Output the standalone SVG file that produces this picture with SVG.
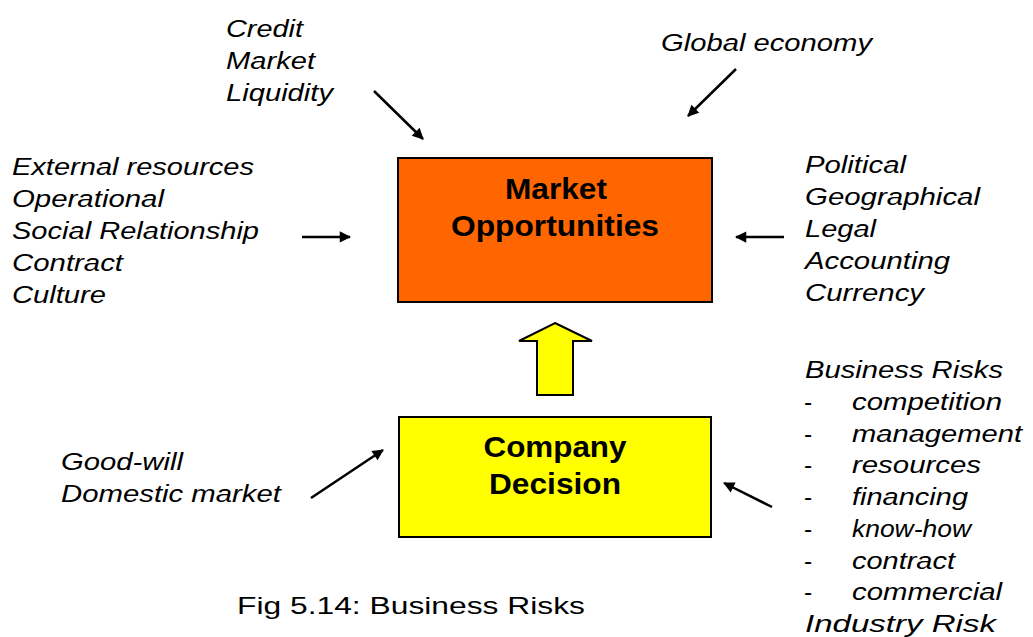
<svg xmlns="http://www.w3.org/2000/svg" width="1033" height="637" viewBox="0 0 1033 637">
<style>
.t{font-family:"Liberation Sans",Arial,sans-serif;font-size:24.5px;font-style:italic;fill:#000}
.c{font-family:"Liberation Sans",Arial,sans-serif;font-size:24.5px;fill:#000}
.b{font-family:"Liberation Sans",Arial,sans-serif;font-size:30px;font-weight:bold;fill:#000;text-anchor:middle}
.a{stroke:#000;stroke-width:2.5;fill:none;marker-end:url(#ah)}
</style>
<defs>
<marker id="ah" viewBox="0 0 10 10" refX="9" refY="5" markerWidth="7" markerHeight="7" markerUnits="userSpaceOnUse" orient="auto" style="overflow:visible">
<path d="M0,0 L10,5 L0,10 z" fill="#000" transform="scale(1.6) translate(-3.5,-1.9)"/>
</marker>
</defs>
<rect width="1033" height="637" fill="#fff"/>
<g id="market">
<rect x="398" y="158" width="314" height="144" fill="#ff6600" stroke="#000" stroke-width="2"/>
<text class="b" x="556" y="199" textLength="102" lengthAdjust="spacingAndGlyphs">Market</text>
<text class="b" x="555" y="236" textLength="208" lengthAdjust="spacingAndGlyphs">Opportunities</text>
</g>
<g id="company">
<rect x="399" y="417" width="312" height="120" fill="#ffff00" stroke="#000" stroke-width="2"/>
<text class="b" x="555" y="457" textLength="143" lengthAdjust="spacingAndGlyphs">Company</text>
<text class="b" x="555" y="494" textLength="132" lengthAdjust="spacingAndGlyphs">Decision</text>
</g>
<g id="upArrow">
<polygon points="555,323 592,341 573,341 573,395 537,395 537,341 519,341" fill="#ffff00" stroke="#000" stroke-width="2"/>
</g>
<g id="connectors">
<line class="a" x1="374" y1="91" x2="423" y2="139"/>
<line class="a" x1="736" y1="69" x2="688" y2="116"/>
<line class="a" x1="302" y1="237" x2="350" y2="237"/>
<line class="a" x1="784" y1="237" x2="736" y2="237"/>
<line class="a" x1="311" y1="498" x2="383" y2="450"/>
<line class="a" x1="772" y1="507" x2="724" y2="483"/>
</g>
<g id="top-left-labels">
<text class="t" x="226" y="37" textLength="77" lengthAdjust="spacingAndGlyphs">Credit</text>
<text class="t" x="226" y="69" textLength="89" lengthAdjust="spacingAndGlyphs">Market</text>
<text class="t" x="226" y="101" textLength="107" lengthAdjust="spacingAndGlyphs">Liquidity</text>
</g>
<g id="top-right-label">
<text class="t" x="661" y="51" textLength="211" lengthAdjust="spacingAndGlyphs">Global economy</text>
</g>
<g id="left-labels">
<text class="t" x="12" y="175" textLength="242" lengthAdjust="spacingAndGlyphs">External resources</text>
<text class="t" x="12" y="207" textLength="152" lengthAdjust="spacingAndGlyphs">Operational</text>
<text class="t" x="12" y="239" textLength="247" lengthAdjust="spacingAndGlyphs">Social Relationship</text>
<text class="t" x="12" y="271" textLength="111" lengthAdjust="spacingAndGlyphs">Contract</text>
<text class="t" x="12" y="303" textLength="94" lengthAdjust="spacingAndGlyphs">Culture</text>
</g>
<g id="right-labels">
<text class="t" x="805" y="173" textLength="101" lengthAdjust="spacingAndGlyphs">Political</text>
<text class="t" x="805" y="205" textLength="175" lengthAdjust="spacingAndGlyphs">Geographical</text>
<text class="t" x="805" y="237" textLength="71" lengthAdjust="spacingAndGlyphs">Legal</text>
<text class="t" x="805" y="269" textLength="145" lengthAdjust="spacingAndGlyphs">Accounting</text>
<text class="t" x="805" y="301" textLength="119" lengthAdjust="spacingAndGlyphs">Currency</text>
</g>
<g id="bottom-left-labels">
<text class="t" x="61" y="470" textLength="122" lengthAdjust="spacingAndGlyphs">Good-will</text>
<text class="t" x="61" y="502" textLength="220" lengthAdjust="spacingAndGlyphs">Domestic market</text>
</g>
<g id="bottom-right-labels">
<text class="t" x="805" y="378" textLength="198" lengthAdjust="spacingAndGlyphs">Business Risks</text>
<text class="c" x="804" y="410">-</text><text class="t" x="852" y="410" textLength="150" lengthAdjust="spacingAndGlyphs">competition</text>
<text class="c" x="804" y="442">-</text><text class="t" x="852" y="442" textLength="170" lengthAdjust="spacingAndGlyphs">management</text>
<text class="c" x="804" y="473">-</text><text class="t" x="852" y="473" textLength="129" lengthAdjust="spacingAndGlyphs">resources</text>
<text class="c" x="804" y="505">-</text><text class="t" x="852" y="505" textLength="116" lengthAdjust="spacingAndGlyphs">financing</text>
<text class="c" x="804" y="537">-</text><text class="t" x="852" y="537" textLength="119" lengthAdjust="spacingAndGlyphs">know-how</text>
<text class="c" x="804" y="569">-</text><text class="t" x="852" y="569" textLength="103" lengthAdjust="spacingAndGlyphs">contract</text>
<text class="c" x="804" y="600">-</text><text class="t" x="852" y="600" textLength="150" lengthAdjust="spacingAndGlyphs">commercial</text>
<text class="t" x="805" y="632" textLength="191" lengthAdjust="spacingAndGlyphs">Industry Risk</text>
</g>
<g id="caption">
<text class="c" x="237" y="614" textLength="348" lengthAdjust="spacingAndGlyphs">Fig 5.14: Business Risks</text>
</g>
</svg>
